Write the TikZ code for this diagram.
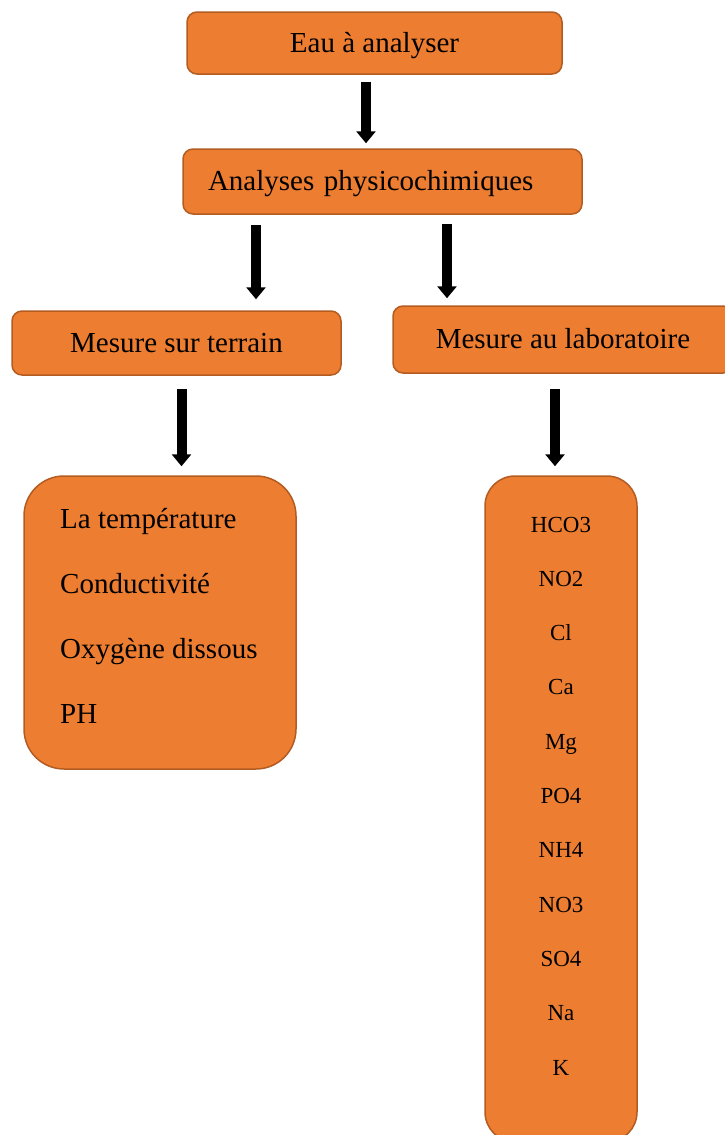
\documentclass[tikz,border=0pt]{standalone}
\usepackage{fontspec}
\setmainfont{Liberation Serif}
\usetikzlibrary{arrows.meta}
\definecolor{boxfill}{HTML}{ED7D31}
\definecolor{boxline}{HTML}{B35C22}
\tikzstyle{stage box}=[draw=boxline, line width=1.5pt, fill=boxfill, rounded corners=10pt, inner sep=0pt, text height=20pt, text depth=2pt, font=\fontsize{29}{35}\selectfont]
\tikzstyle{list box}=[draw=boxline, line width=1.5pt, fill=boxfill, inner sep=0pt]
\tikzstyle{big arrow}=[line width=10pt, -{Triangle[width=19pt,length=12pt]}]

\begin{document}
\begin{tikzpicture}[x=1pt,y=-1pt]
    \useasboundingbox (0,0) rectangle (724,1135);

    % Stages
    \node[stage box, minimum width=375pt, minimum height=62pt] (eau) at (374.5,43) {Eau à analyser};
    \node[stage box, text width=349pt, inner xsep=25pt, align=left, minimum height=65pt] (ana) at (382.5,181.5) {Analyses physicochimiques};
    \node[stage box, minimum width=329pt, minimum height=64pt] (terrain) at (176.5,343) {Mesure sur terrain};
    \node[stage box, minimum width=340pt, minimum height=67pt] (labo) at (563,339.5) {Mesure au laboratoire};

    % Lists
    \node[list box, rounded corners=40pt, minimum width=272pt, minimum height=293pt] (tlist) at (160,622.5) {};
    \node[list box, rounded corners=30pt, minimum width=152pt, minimum height=666pt] (llist) at (561,809) {};

    \foreach \p [count=\i] in {La température, Conductivité, Oxygène dissous, PH}
        \node[anchor=base west, inner sep=0pt, font=\fontsize{29}{35}\selectfont] (tp\i) at (60,{528+65*(\i-1)}) {\p};
    \foreach \p [count=\i] in {HCO3,NO2,Cl,Ca,Mg,PO4,NH4,NO3,SO4,Na,K}
        \node[anchor=base, inner sep=0pt, font=\fontsize{23}{28}\selectfont] (lp\i) at (561,{532+54.3*(\i-1)}) {\p};

    % Arrows
    \coordinate (a1) at ([xshift=-8.5pt]eau.south);
    \coordinate (a2) at ([xshift=-126.5pt]ana.south);
    \coordinate (a3) at ([xshift=64.5pt]ana.south);
    \coordinate (a4) at ([xshift=5pt]terrain.south);
    \coordinate (a5) at ([xshift=-8pt]labo.south);
    \draw[big arrow, shorten <=7pt, shorten >=5pt] (a1) -- (a1 |- ana.north);
    \draw[big arrow, shorten <=10pt, shorten >=11pt] (a2) -- (a2 |- terrain.north);
    \draw[big arrow, shorten <=9pt, shorten >=7pt] (a3) -- (a3 |- labo.north);
    \draw[big arrow, shorten <=13pt, shorten >=9pt] (a4) -- (a4 |- tlist.north);
    \draw[big arrow, shorten <=15pt, shorten >=9pt] (a5) -- (a5 |- llist.north);

\end{tikzpicture}
\end{document}
